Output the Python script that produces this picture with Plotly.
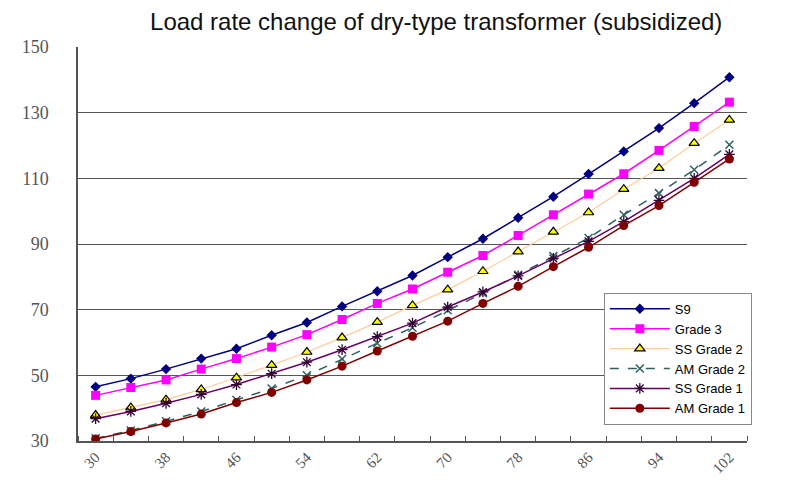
import plotly.graph_objects as go

x_vals = [30, 34, 38, 42, 46, 50, 54, 58, 62, 66, 70, 74, 78, 82, 86, 90, 94, 98, 102]
x_tick_labels = [30, 38, 46, 54, 62, 70, 78, 86, 94, 102]

s9 = [46.5, 49.0, 51.9, 55.1, 58.1, 62.2, 66.1, 71.0, 75.6, 80.4, 86.0, 91.6, 98.0, 104.4, 111.3, 118.2, 125.3, 132.9, 140.8]
grade3 = [43.9, 46.3, 48.6, 51.9, 55.1, 58.6, 62.4, 67.0, 71.9, 76.3, 81.4, 86.5, 92.6, 98.9, 105.2, 111.4, 118.5, 125.8, 133.2]
ss_grade2 = [37.9, 40.2, 42.6, 45.7, 49.3, 53.1, 57.1, 61.5, 66.2, 71.3, 76.1, 81.7, 87.7, 93.7, 99.6, 106.7, 113.1, 120.7, 127.8]
am_grade2 = [30.8, 33.2, 36.0, 39.0, 42.5, 46.0, 50.0, 55.0, 59.8, 64.5, 69.8, 75.0, 80.6, 86.3, 91.8, 98.9, 105.5, 112.6, 120.2]
ss_grade1 = [36.8, 39.0, 41.5, 44.2, 47.2, 50.5, 54.0, 57.8, 61.8, 65.9, 70.8, 75.4, 80.3, 85.6, 90.8, 96.8, 103.3, 110.0, 117.3]
am_grade1 = [30.6, 32.9, 35.5, 38.2, 41.7, 44.8, 48.6, 52.8, 57.4, 61.9, 66.5, 71.9, 77.1, 83.1, 89.0, 95.6, 101.7, 108.8, 115.9]

y_ticks = [30, 50, 70, 90, 110, 130, 150]

series = [
    ("S9", s9, dict(color="#000080", width=1.5), dict(symbol="diamond", size=8, color="#000080")),
    ("Grade 3", grade3, dict(color="#FF00FF", width=1.5), dict(symbol="square", size=9, color="#FF00FF")),
    ("SS Grade 2", ss_grade2, dict(color="#FFCC99", width=1.2), dict(symbol="triangle-up", size=9, color="#FFFF00", line=dict(color="#000000", width=1.2))),
    ("AM Grade 2", am_grade2, dict(color="#2F5F5F", width=1.5, dash="dash"), dict(symbol="x-thin", size=8, color="#2F5F5F", line=dict(color="#2F5F5F", width=1.5))),
    ("SS Grade 1", ss_grade1, dict(color="#660066", width=1.5), dict(symbol="asterisk", size=9, color="#330033", line=dict(color="#330033", width=1.3))),
    ("AM Grade 1", am_grade1, dict(color="#800000", width=1.5), dict(symbol="circle", size=9, color="#800000")),
]

fig = go.Figure()
for name, ys, line, marker in series:
    fig.add_trace(go.Scatter(x=x_vals, y=ys, name=name, mode="lines+markers", line=line, marker=marker))

# page body has an 8px margin: figure sits at (8, 8), so it is 8px smaller
fig.update_layout(
    width=790, height=476,
    margin=dict(l=70, r=51, t=39, b=43, autoexpand=False),
    paper_bgcolor="white", plot_bgcolor="white",
    title=dict(text="Load rate change of dry-type transformer (subsidized)",
               x=0.542, xanchor="center", y=0.99, yanchor="top",
               font=dict(family="Liberation Sans, Arial", size=24, color="#111111")),
    legend=dict(x=0.786, y=0.376, xanchor="left", yanchor="top",
                bgcolor="white", bordercolor="#888888", borderwidth=1,
                font=dict(family="Liberation Sans, Arial", size=13, color="#000000"),
                itemwidth=60, tracegroupgap=0, traceorder="normal"),
    showlegend=True,
)
fig.update_xaxes(
    range=[28, 104], tickmode="array", tickvals=x_tick_labels,
    ticktext=[str(v) for v in x_tick_labels], tickangle=-45, automargin=False,
    ticks="", showgrid=False, showline=True, linecolor="#555555", linewidth=1.5,
    tickfont=dict(family="Liberation Serif, Times New Roman", size=15, color="#555555"),
    minor=dict(ticks="inside", tick0=28, dtick=4, ticklen=5, tickcolor="#555555", showgrid=False),
    zeroline=False,
)
fig.update_yaxes(
    range=[30, 150], tickmode="array", tickvals=y_ticks, automargin=False,
    showgrid=True, gridcolor="#555555", gridwidth=1,
    showline=True, linecolor="#555555", linewidth=1.5, ticks="",
    tickfont=dict(family="Liberation Serif, Times New Roman", size=18, color="#555555"),
    zeroline=False, ticklabelstandoff=24,
)
fig.write_html("out.html")
